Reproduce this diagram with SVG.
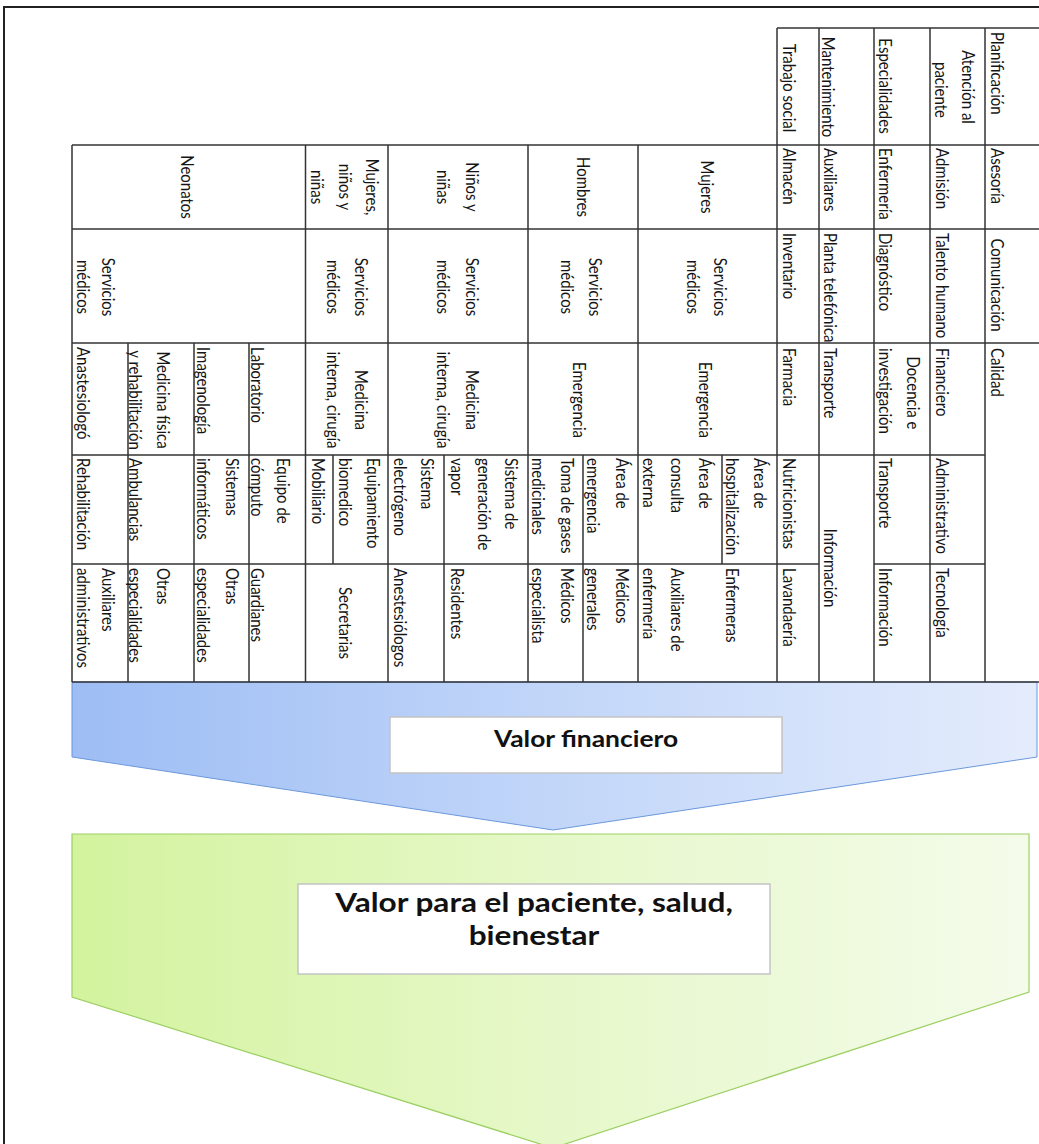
<svg xmlns="http://www.w3.org/2000/svg" width="1039" height="1144" viewBox="0 0 1039 1144">
  <style>
    .t { font-family: Lato, "Liberation Sans", sans-serif; font-size: 15px; fill: #151515; }
    .m { text-anchor: middle; }
    .grid line { stroke: #333; stroke-width: 1.5; }
    .frame { stroke: #222; stroke-width: 2; fill: none; }
    .box { fill: #fff; stroke: #c4c4c4; stroke-width: 1.5; }
    .big { font-family: Lato, "Liberation Sans", sans-serif; font-weight: bold; fill: #111; text-anchor: middle; }
  </style>
  <defs>
    <linearGradient id="blueFill" x1="0" y1="0" x2="1" y2="0">
      <stop offset="0" stop-color="#9dbdf4"/>
      <stop offset="0.5" stop-color="#c2d6f9"/>
      <stop offset="1" stop-color="#e4ecfc"/>
    </linearGradient>
    <linearGradient id="greenFill" x1="0" y1="0" x2="1" y2="0">
      <stop offset="0" stop-color="#d3f39e"/>
      <stop offset="0.5" stop-color="#e6f8c9"/>
      <stop offset="1" stop-color="#f4fbea"/>
    </linearGradient>
  </defs>

  <rect width="1039" height="1144" fill="#fff"/>
  <path class="frame" d="M4,1144 V7 H1039"/>

  <!-- downward arrows -->
  <g id="valor-financiero">
    <path d="M72,682 H1037 V757 L553,830 L72,757 Z" fill="url(#blueFill)" stroke="#6b98dc" stroke-width="1"/>
    <rect class="box" x="390" y="717" width="392" height="56"/>
    <text class="big" font-size="22" transform="matrix(1.2 0 0 1 586 747)">Valor financiero</text>
  </g>
  <g id="valor-paciente">
    <path d="M72,834 H1029 V992 L553,1148 L72,997 Z" fill="url(#greenFill)" stroke="#9ccf62" stroke-width="1.2"/>
    <rect class="box" x="298" y="884" width="472" height="90"/>
    <text class="big" font-size="26.3" transform="matrix(1.2 0 0 1 534 912)">Valor para el paciente, salud,</text>
    <text class="big" font-size="26.3" transform="matrix(1.2 0 0 1 534 945)">bienestar</text>
  </g>

  <!-- table rules -->
  <g id="connectors" class="grid">
    <line x1="777" y1="28" x2="1039" y2="28"/>
    <line x1="72" y1="145" x2="1039" y2="145"/>
    <line x1="72" y1="229" x2="1039" y2="229"/>
    <line x1="72" y1="343" x2="1039" y2="343"/>
    <line x1="72" y1="455" x2="985" y2="455"/>
    <line x1="72" y1="564" x2="819" y2="564"/>
    <line x1="874" y1="564" x2="985" y2="564"/>
    <line x1="72" y1="682" x2="1039" y2="682"/>
    <line x1="72" y1="145" x2="72" y2="682"/>
    <line x1="305.5" y1="145" x2="305.5" y2="682"/>
    <line x1="388" y1="145" x2="388" y2="682"/>
    <line x1="528" y1="145" x2="528" y2="682"/>
    <line x1="638" y1="145" x2="638" y2="682"/>
    <line x1="777" y1="28" x2="777" y2="682"/>
    <line x1="819" y1="28" x2="819" y2="682"/>
    <line x1="874" y1="28" x2="874" y2="682"/>
    <line x1="930" y1="28" x2="930" y2="682"/>
    <line x1="985" y1="28" x2="985" y2="682"/>
    <line x1="128" y1="343" x2="128" y2="682"/>
    <line x1="194" y1="343" x2="194" y2="682"/>
    <line x1="249" y1="343" x2="249" y2="682"/>
    <line x1="333" y1="455" x2="333" y2="564"/>
    <line x1="444" y1="455" x2="444" y2="682"/>
    <line x1="583" y1="455" x2="583" y2="682"/>
    <line x1="722" y1="455" x2="722" y2="564"/>
  </g>

  <!-- upper right block -->
  <g id="trabajo-social">
    <text class="t m" transform="matrix(0 1 -1.2 0 783 88)">Trabajo social</text>
    <text class="t" transform="matrix(0 1 -1.2 0 783 148)">Almacén</text>
    <text class="t" transform="matrix(0 1 -1.2 0 783 233)">Inventario</text>
    <text class="t" transform="matrix(0 1 -1.2 0 783 348)">Farmacia</text>
    <text class="t" transform="matrix(0 1 -1.2 0 783 458)">Nutricionistas</text>
    <text class="t" transform="matrix(0 1 -1.2 0 783 568)">Lavandaería</text>
  </g>
  <g id="mantenimiento">
    <text class="t m" transform="matrix(0 1 -1.2 0 822 87)">Mantenimiento</text>
    <text class="t" transform="matrix(0 1 -1.2 0 824 148)">Auxiliares</text>
    <text class="t" transform="matrix(0 1 -1.2 0 824 233)">Planta telefónica</text>
    <text class="t" transform="matrix(0 1 -1.2 0 824 348)">Transporte</text>
    <text class="t m" transform="matrix(0 1 -1.2 0 824 568)">Información</text>
  </g>
  <g id="especialidades">
    <text class="t m" transform="matrix(0 1 -1.2 0 879 86)">Especialidades</text>
    <text class="t" transform="matrix(0 1 -1.2 0 879 148)">Enfermería</text>
    <text class="t" transform="matrix(0 1 -1.2 0 879 233)">Diagnóstico</text>
    <text class="t m" transform="matrix(0 1 -1.2 0 907 393)">Docencia e</text>
    <text class="t m" transform="matrix(0 1 -1.2 0 879 391)">investigación</text>
    <text class="t" transform="matrix(0 1 -1.2 0 879 458)">Transporte</text>
    <text class="t" transform="matrix(0 1 -1.2 0 879 568)">Información</text>
  </g>
  <g id="atencion">
    <text class="t m" transform="matrix(0 1 -1.2 0 962 87)">Atención al</text>
    <text class="t m" transform="matrix(0 1 -1.2 0 935 90)">paciente</text>
    <text class="t" transform="matrix(0 1 -1.2 0 936 148)">Admisión</text>
    <text class="t" transform="matrix(0 1 -1.2 0 936 233)">Talento humano</text>
    <text class="t" transform="matrix(0 1 -1.2 0 936 348)">Financiero</text>
    <text class="t" transform="matrix(0 1 -1.2 0 936 458)">Administrativo</text>
    <text class="t" transform="matrix(0 1 -1.2 0 936 568)">Tecnología</text>
  </g>
  <g id="planificacion">
    <text class="t" transform="matrix(0 1 -1.2 0 991 32)">Planificación</text>
    <text class="t" transform="matrix(0 1 -1.2 0 991 148)">Asesoría</text>
    <text class="t m" transform="matrix(0 1 -1.2 0 991 285)">Comunicación</text>
    <text class="t" transform="matrix(0 1 -1.2 0 991 348)">Calidad</text>
  </g>

  <!-- population blocks -->
  <g id="mujeres">
    <text class="t m" transform="matrix(0 1 -1.2 0 701 187)">Mujeres</text>
    <text class="t m" transform="matrix(0 1 -1.2 0 714 287)">Servicios</text>
    <text class="t m" transform="matrix(0 1 -1.2 0 687 287)">médicos</text>
    <text class="t m" transform="matrix(0 1 -1.2 0 699 400)">Emergencia</text>
    <text class="t" transform="matrix(0 1 -1.2 0 754 458)">Área de</text>
    <text class="t" transform="matrix(0 1 -1.2 0 726 458)">hospitalización</text>
    <text class="t" transform="matrix(0 1 -1.2 0 699 458)">Área de</text>
    <text class="t" transform="matrix(0 1 -1.2 0 671 458)">consulta</text>
    <text class="t" transform="matrix(0 1 -1.2 0 643 458)">externa</text>
    <text class="t" transform="matrix(0 1 -1.2 0 726 568)">Enfermeras</text>
    <text class="t" transform="matrix(0 1 -1.2 0 671 568)">Auxiliares de</text>
    <text class="t" transform="matrix(0 1 -1.2 0 643 568)">enfermería</text>
  </g>
  <g id="hombres">
    <text class="t m" transform="matrix(0 1 -1.2 0 577 187)">Hombres</text>
    <text class="t m" transform="matrix(0 1 -1.2 0 589 287)">Servicios</text>
    <text class="t m" transform="matrix(0 1 -1.2 0 561 287)">médicos</text>
    <text class="t m" transform="matrix(0 1 -1.2 0 573 400)">Emergencia</text>
    <text class="t" transform="matrix(0 1 -1.2 0 616 458)">Área de</text>
    <text class="t" transform="matrix(0 1 -1.2 0 587 458)">emergencia</text>
    <text class="t" transform="matrix(0 1 -1.2 0 561 458)">Toma de gases</text>
    <text class="t" transform="matrix(0 1 -1.2 0 532 458)">medicinales</text>
    <text class="t" transform="matrix(0 1 -1.2 0 616 568)">Médicos</text>
    <text class="t" transform="matrix(0 1 -1.2 0 587 568)">generales</text>
    <text class="t" transform="matrix(0 1 -1.2 0 561 568)">Médicos</text>
    <text class="t" transform="matrix(0 1 -1.2 0 532 568)">especialista</text>
  </g>
  <g id="ninos">
    <text class="t m" transform="matrix(0 1 -1.2 0 466 187)">Niños y</text>
    <text class="t m" transform="matrix(0 1 -1.2 0 437 187)">niñas</text>
    <text class="t m" transform="matrix(0 1 -1.2 0 466 287)">Servicios</text>
    <text class="t m" transform="matrix(0 1 -1.2 0 437 287)">médicos</text>
    <text class="t m" transform="matrix(0 1 -1.2 0 466 400)">Medicina</text>
    <text class="t m" transform="matrix(0 1 -1.2 0 437 400)">interna, cirugía</text>
    <text class="t" transform="matrix(0 1 -1.2 0 505 458)">Sistema de</text>
    <text class="t" transform="matrix(0 1 -1.2 0 478 458)">generación de</text>
    <text class="t" transform="matrix(0 1 -1.2 0 451 458)">vapor</text>
    <text class="t" transform="matrix(0 1 -1.2 0 421 458)">Sistema</text>
    <text class="t" transform="matrix(0 1 -1.2 0 394 458)">electrógeno</text>
    <text class="t" transform="matrix(0 1 -1.2 0 451 568)">Residentes</text>
    <text class="t" transform="matrix(0 1 -1.2 0 394 568)">Anestesiólogos</text>
  </g>
  <g id="mujeres-ninos">
    <text class="t m" transform="matrix(0 1 -1.2 0 366 187)">Mujeres,</text>
    <text class="t m" transform="matrix(0 1 -1.2 0 339 187)">niños y</text>
    <text class="t m" transform="matrix(0 1 -1.2 0 311 187)">niñas</text>
    <text class="t m" transform="matrix(0 1 -1.2 0 355 287)">Servicios</text>
    <text class="t m" transform="matrix(0 1 -1.2 0 327 287)">médicos</text>
    <text class="t m" transform="matrix(0 1 -1.2 0 355 400)">Medicina</text>
    <text class="t m" transform="matrix(0 1 -1.2 0 327 400)">interna, cirugía</text>
    <text class="t" transform="matrix(0 1 -1.2 0 367 458)">Equipamiento</text>
    <text class="t" transform="matrix(0 1 -1.2 0 339 458)">biomedico</text>
    <text class="t" transform="matrix(0 1 -1.2 0 312 458)">Mobiliario</text>
    <text class="t m" transform="matrix(0 1 -1.2 0 339 623)">Secretarias</text>
  </g>
  <g id="neonatos">
    <text class="t m" transform="matrix(0 1 -1.2 0 181 187)">Neonatos</text>
    <text class="t m" transform="matrix(0 1 -1.2 0 102 287)">Servicios</text>
    <text class="t m" transform="matrix(0 1 -1.2 0 77 287)">médicos</text>
    <text class="t" transform="matrix(0 1 -1.2 0 251 347)">Laboratorio</text>
    <text class="t" transform="matrix(0 1 -1.2 0 197 347)">Imagenología</text>
    <text class="t m" transform="matrix(0 1 -1.2 0 157 400)">Medicina física</text>
    <text class="t m" transform="matrix(0 1 -1.2 0 129 400)">y rehabilitación</text>
    <text class="t" transform="matrix(0 1 -1.2 0 77 347)">Anastesiologó</text>
    <text class="t" transform="matrix(0 1 -1.2 0 277 458)">Equipo de</text>
    <text class="t" transform="matrix(0 1 -1.2 0 251 458)">cómputo</text>
    <text class="t" transform="matrix(0 1 -1.2 0 226 458)">Sistemas</text>
    <text class="t" transform="matrix(0 1 -1.2 0 197 458)">informáticos</text>
    <text class="t" transform="matrix(0 1 -1.2 0 129 458)">Ambulancias</text>
    <text class="t" transform="matrix(0 1 -1.2 0 77 458)">Rehabilitación</text>
    <text class="t" transform="matrix(0 1 -1.2 0 251 568)">Guardianes</text>
    <text class="t" transform="matrix(0 1 -1.2 0 226 568)">Otras</text>
    <text class="t" transform="matrix(0 1 -1.2 0 197 568)">especialidades</text>
    <text class="t" transform="matrix(0 1 -1.2 0 157 568)">Otras</text>
    <text class="t" transform="matrix(0 1 -1.2 0 129 568)">especialidades</text>
    <text class="t" transform="matrix(0 1 -1.2 0 102 568)">Auxiliares</text>
    <text class="t" transform="matrix(0 1 -1.2 0 77 568)">administrativos</text>
  </g>
</svg>
